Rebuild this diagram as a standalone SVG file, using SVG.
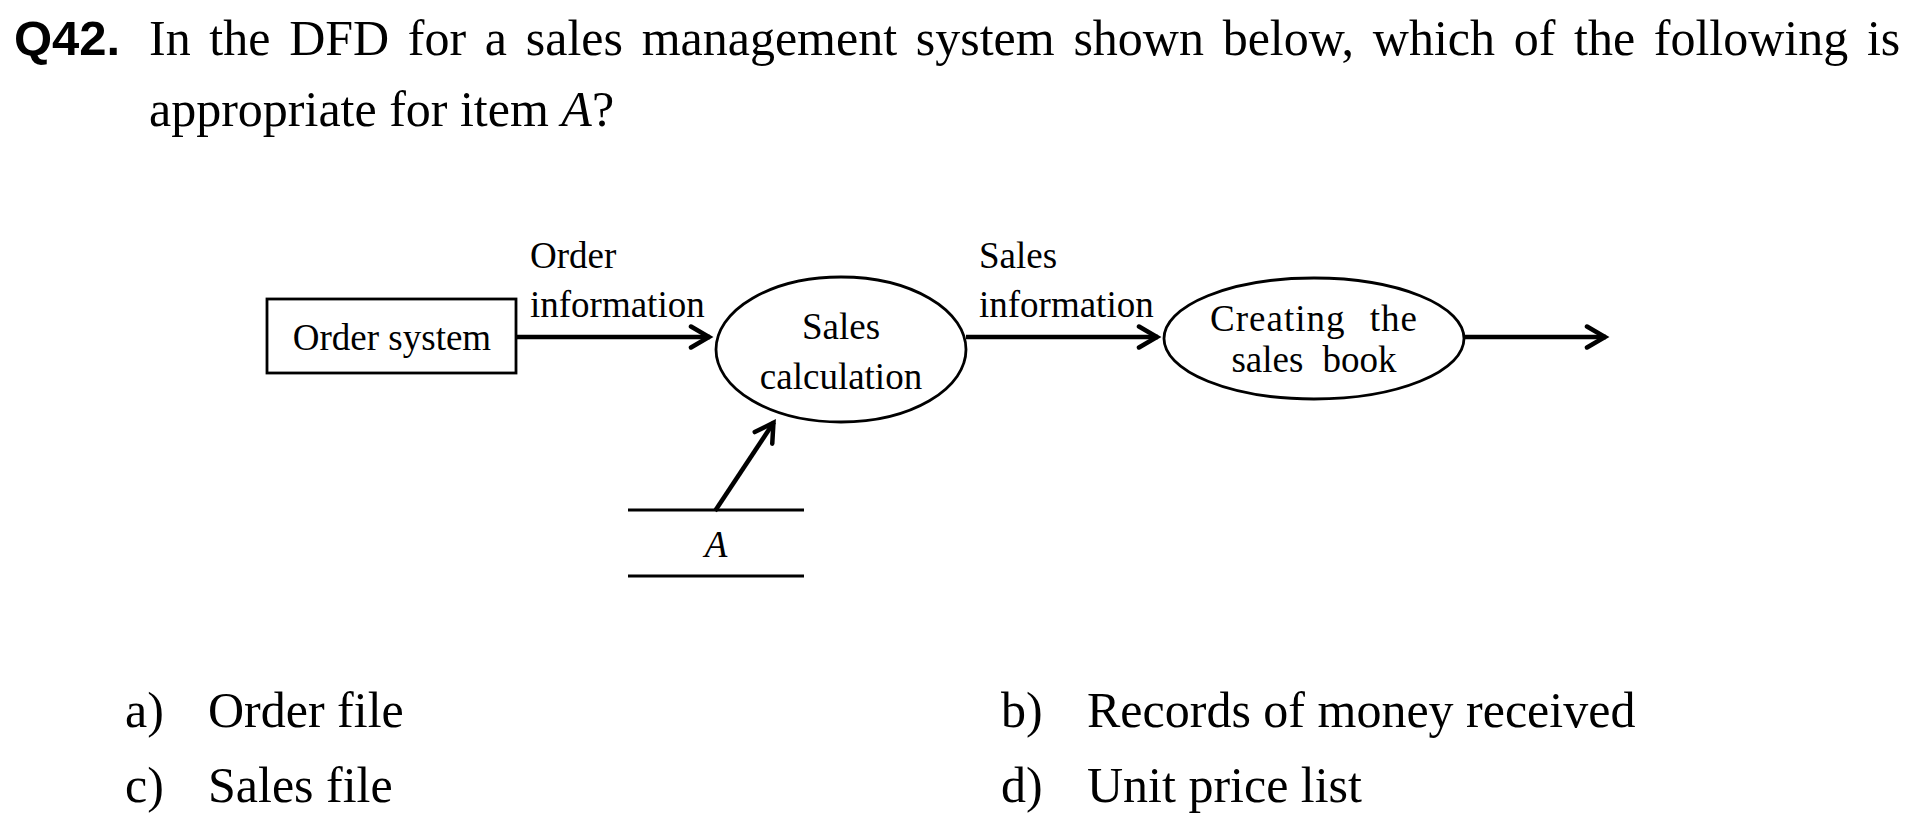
<svg xmlns="http://www.w3.org/2000/svg" width="1919" height="829" viewBox="0 0 1919 829">
<defs>
<style>
.q{font-family:"Liberation Sans",Arial,sans-serif;font-weight:bold;font-size:49px;fill:#000}
.t{font-family:"Liberation Serif","Times New Roman",serif;font-size:50px;fill:#000}
.d{font-family:"Liberation Serif","Times New Roman",serif;font-size:37px;fill:#000}
.shape{fill:#fff;stroke:#000;stroke-width:2.8}
.flow{fill:none;stroke:#000;stroke-width:4.5}
.store{fill:none;stroke:#000;stroke-width:3.2}
</style>
<marker id="arr" viewBox="0 0 26 28" markerWidth="26" markerHeight="28" refX="22" refY="14" orient="auto" markerUnits="userSpaceOnUse">
<path d="M3,3.5 L21,14 L3,24.5" fill="none" stroke="#000" stroke-width="4.5" stroke-linecap="round" stroke-linejoin="miter"/>
</marker>
</defs>
<rect width="1919" height="829" fill="#fff"/>

<g id="question">
<text class="q" x="14" y="55">Q42.</text>
<text class="t" x="149" y="55" word-spacing="6.2">In the DFD for a sales management system shown below, which of the following is</text>
<text class="t" x="149" y="126">appropriate for item <tspan font-style="italic">A</tspan>?</text>
</g>

<g id="connectors">
<line class="flow" x1="516" y1="337" x2="710" y2="337" marker-end="url(#arr)"/>
<line class="flow" x1="966" y1="337" x2="1158" y2="337" marker-end="url(#arr)"/>
<line class="flow" x1="1464" y1="337" x2="1606" y2="337" marker-end="url(#arr)"/>
<line class="flow" x1="715" y1="511" x2="774" y2="422" marker-end="url(#arr)"/>
<text class="d" x="530" y="268">Order</text>
<text class="d" x="530" y="317">information</text>
<text class="d" x="979" y="268">Sales</text>
<text class="d" x="979" y="317">information</text>
</g>

<g id="order-system">
<rect class="shape" x="267" y="299" width="249" height="74"/>
<text class="d" x="392" y="350" text-anchor="middle">Order system</text>
</g>

<g id="sales-calculation">
<ellipse class="shape" cx="841" cy="349.5" rx="125" ry="72.5"/>
<text class="d" x="841" y="339" text-anchor="middle">Sales</text>
<text class="d" x="841" y="389" text-anchor="middle">calculation</text>
</g>

<g id="creating-sales-book">
<ellipse class="shape" cx="1314" cy="338.5" rx="150" ry="60.5"/>
<text class="d" x="1314" y="331" text-anchor="middle" word-spacing="14" letter-spacing="1">Creating the</text>
<text class="d" x="1314" y="372" text-anchor="middle" word-spacing="10">sales book</text>
</g>

<g id="data-store-A">
<line class="store" x1="628" y1="510" x2="804" y2="510"/>
<line class="store" x1="628" y1="576" x2="804" y2="576"/>
<text class="d" x="716" y="557" text-anchor="middle" font-style="italic" font-size="36">A</text>
</g>

<g id="answers">
<text class="t" x="125" y="727">a)</text>
<text class="t" x="208" y="727">Order file</text>
<text class="t" x="125" y="802">c)</text>
<text class="t" x="208" y="802">Sales file</text>
<text class="t" x="1001" y="727">b)</text>
<text class="t" x="1087" y="727">Records of money received</text>
<text class="t" x="1001" y="802">d)</text>
<text class="t" x="1087" y="802">Unit price list</text>
</g>
</svg>
